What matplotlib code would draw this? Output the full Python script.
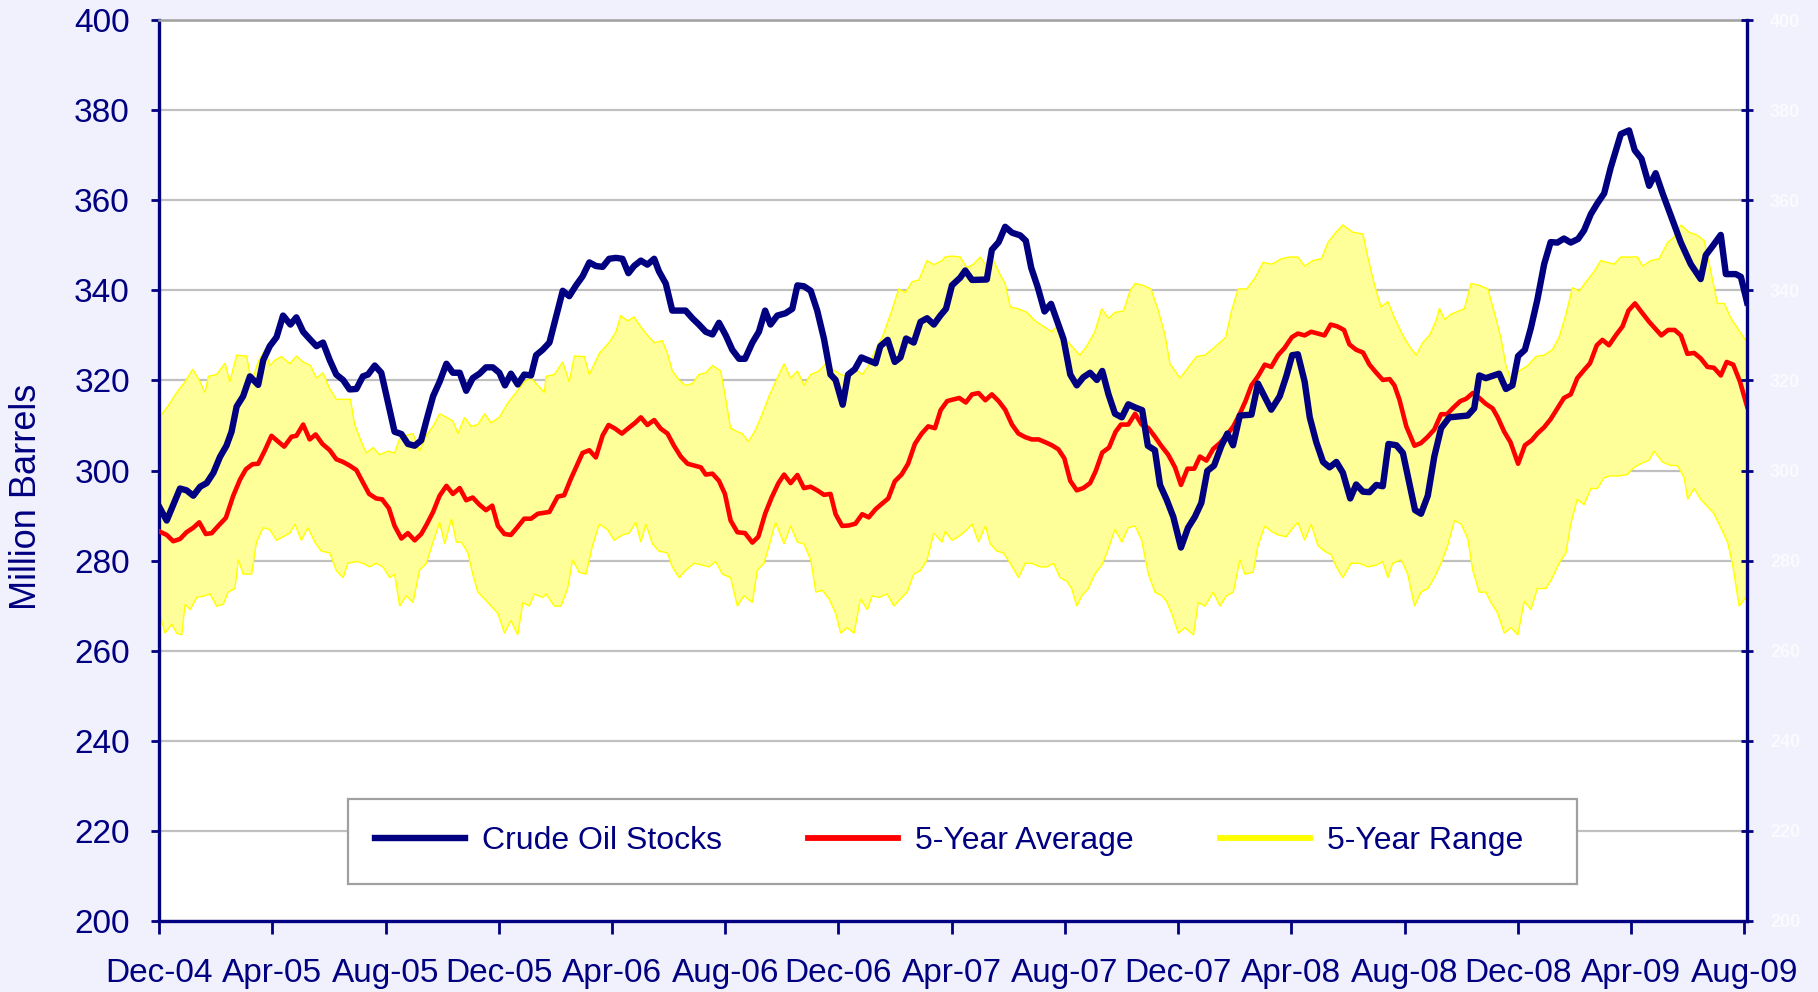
import numpy as np
import matplotlib
matplotlib.use('Agg')
import matplotlib.pyplot as plt
from matplotlib.lines import Line2D

NAVY = '#000080'
RED = '#FF0000'
BG = '#F1F1FD'

# x positions are months since Dec-04
TICK_LABELS = ['Dec-04', 'Apr-05', 'Aug-05', 'Dec-05', 'Apr-06', 'Aug-06', 'Dec-06', 'Apr-07',
               'Aug-07', 'Dec-07', 'Apr-08', 'Aug-08', 'Dec-08', 'Apr-09', 'Aug-09']

stocks_x = [0, 0.27, 0.74, 0.97, 1.21, 1.45, 1.68, 1.92, 2.15, 2.38, 2.56, 2.74, 2.97, 3.21, 3.5, 3.68,
            3.91, 4.15, 4.38, 4.64, 4.85, 5.09, 5.32, 5.56, 5.79, 6.03, 6.26, 6.5, 6.73, 6.97, 7.2,
            7.38, 7.62, 7.85, 8.09, 8.32, 8.56, 8.79, 9.03, 9.26, 9.44, 9.68, 9.91, 10.15, 10.38,
            10.62, 10.85, 11.08, 11.32, 11.55, 11.79, 12.02, 12.22, 12.43, 12.67, 12.9, 13.14, 13.32,
            13.55, 13.79, 14.08, 14.26, 14.49, 14.73, 14.96, 15.2, 15.43, 15.67, 15.9, 16.14, 16.37,
            16.58, 16.78, 17.02, 17.25, 17.49, 17.66, 17.9, 18.13, 18.6, 18.84, 19.07, 19.31, 19.55,
            19.78, 20.02, 20.25, 20.49, 20.7, 20.96, 21.19, 21.41, 21.6, 21.84, 22.13, 22.37, 22.55,
            22.78, 23.02, 23.25, 23.49, 23.72, 23.9, 24.15, 24.34, 24.58, 24.81, 25.31, 25.48, 25.74,
            25.99, 26.19, 26.39, 26.66, 26.9, 27.13, 27.37, 27.6, 27.8, 28.01, 28.3, 28.48, 28.72,
            29.24, 29.42, 29.66, 29.89, 30.13, 30.42, 30.62, 30.81, 31.04, 31.28, 31.51, 31.77,
            31.95, 32.19, 32.42, 32.65, 32.89, 33.13, 33.32, 33.54, 33.77, 34.01, 34.24, 34.48,
            34.73, 34.93, 35.18, 35.36, 35.59, 35.83, 36.1, 36.35, 36.59, 36.82, 37.03, 37.27,
            37.53, 37.74, 37.94, 38.18, 38.59, 38.82, 39.08, 39.29, 39.59, 39.82, 40.03, 40.23,
            40.47, 40.65, 40.88, 41.12, 41.35, 41.59, 41.82, 42.08, 42.29, 42.53, 42.76, 43.0,
            43.23, 43.43, 43.71, 43.94, 44.18, 44.37, 44.58, 44.82, 45.05, 45.29, 45.58, 46.23,
            46.46, 46.64, 46.87, 47.34, 47.58, 47.81, 48.01, 48.25, 48.46, 48.69, 48.93, 49.16,
            49.4, 49.63, 49.87, 50.13, 50.34, 50.58, 50.81, 51.05, 51.28, 51.64, 51.93, 52.13,
            52.37, 52.64, 52.87, 53.11, 53.41, 53.76, 54.11, 54.46, 54.64, 54.88, 55.17, 55.35,
            55.7, 55.88, 56.1]
stocks = [292.0, 288.9, 296.0, 295.6, 294.4, 296.4, 297.2, 299.5, 303.0, 305.5, 308.6, 314.2, 316.5,
          320.9, 319.0, 324.5, 327.6, 329.6, 334.4, 332.4, 334.0, 330.8, 329.2, 327.6, 328.4, 324.5,
          321.3, 320.1, 318.0, 318.1, 320.9, 321.3, 323.3, 321.7, 315.0, 308.6, 308.1, 305.9, 305.5,
          306.7, 311.0, 316.5, 319.7, 323.7, 321.7, 321.7, 317.7, 320.5, 321.5, 322.9, 322.9, 321.7,
          318.9, 321.5, 319.1, 321.3, 321.1, 325.6, 326.8, 328.4, 335.5, 339.9, 338.7, 341.1, 343.1,
          346.2, 345.4, 345.2, 347.0, 347.2, 347.0, 343.8, 345.4, 346.6, 345.7, 347.0, 344.2, 341.5,
          335.5, 335.5, 333.8, 332.4, 330.8, 330.2, 332.8, 330.0, 326.8, 324.8, 324.8, 328.4, 330.8,
          335.5, 332.4, 334.4, 334.9, 335.9, 341.1, 340.9, 339.9, 335.5, 329.2, 321.3, 320.1, 314.6,
          321.3, 322.5, 325.1, 323.8, 327.6, 329.0, 324.1, 325.1, 329.3, 328.4, 333.0, 333.8, 332.4,
          334.4, 335.9, 341.1, 342.8, 344.4, 342.3, 342.4, 349.0, 350.7, 354.1, 352.8, 352.2, 351.0,
          345.0, 340.7, 335.3, 337.0, 332.4, 329.2, 321.3, 318.9, 320.7, 321.7, 320.1, 322.1, 316.9,
          312.6, 311.8, 314.7, 314.0, 313.4, 305.5, 304.5, 296.8, 293.6, 289.7, 282.9, 287.3, 289.7,
          292.8, 299.9, 301.1, 305.5, 308.2, 305.6, 312.2, 312.4, 319.3, 316.1, 313.5, 316.5, 320.9,
          325.6, 325.8, 319.7, 311.8, 306.3, 301.9, 300.7, 301.9, 299.5, 293.8, 296.9, 295.3, 295.2,
          296.8, 296.5, 305.9, 305.6, 303.9, 296.8, 291.2, 290.4, 294.4, 303.1, 309.4, 311.8, 312.2,
          313.8, 321.1, 320.5, 321.5, 318.1, 318.9, 325.4, 326.8, 331.6, 337.9, 345.8, 350.7, 350.6,
          351.5, 350.6, 351.4, 353.3, 356.9, 359.3, 361.5, 367.2, 374.7, 375.5, 371.1, 369.2, 363.2,
          366.0, 361.6, 356.5, 350.6, 345.8, 342.5, 347.8, 349.8, 352.3, 343.6, 343.6, 343.0, 337.3]

avg_x = [0, 0.27, 0.5, 0.74, 0.97, 1.21, 1.42, 1.65, 1.86, 2.09, 2.36, 2.62, 2.86, 3.07, 3.3, 3.5,
         3.74, 3.97, 4.21, 4.42, 4.68, 4.85, 5.09, 5.32, 5.53, 5.77, 6.03, 6.26, 6.5, 6.73, 6.97,
         7.18, 7.42, 7.67, 7.88, 8.12, 8.32, 8.56, 8.79, 9.03, 9.26, 9.46, 9.68, 9.91, 10.15,
         10.38, 10.62, 10.85, 11.08, 11.32, 11.55, 11.77, 11.97, 12.2, 12.43, 12.67, 12.9, 13.14,
         13.38, 13.79, 14.08, 14.31, 14.55, 14.96, 15.2, 15.43, 15.67, 15.88, 16.11, 16.35, 16.58,
         16.82, 17.02, 17.25, 17.49, 17.72, 17.96, 18.19, 18.43, 18.67, 18.9, 19.14, 19.31, 19.55,
         19.78, 19.99, 20.19, 20.43, 20.7, 20.96, 21.17, 21.41, 21.64, 21.88, 22.08, 22.31, 22.55,
         22.78, 23.02, 23.25, 23.49, 23.72, 23.9, 24.13, 24.37, 24.6, 24.84, 25.07, 25.31, 25.55,
         25.76, 25.99, 26.23, 26.46, 26.7, 26.94, 27.17, 27.41, 27.61, 27.84, 28.01, 28.27, 28.5,
         28.72, 28.95, 29.19, 29.42, 29.66, 29.89, 30.13, 30.36, 30.6, 30.83, 31.07, 31.3, 31.54,
         31.77, 31.98, 32.19, 32.42, 32.65, 32.89, 33.09, 33.32, 33.56, 33.79, 33.98, 34.24,
         34.48, 34.71, 34.95, 35.18, 35.39, 35.65, 35.89, 36.1, 36.33, 36.57, 36.77, 37.0, 37.24,
         37.48, 37.71, 37.95, 38.18, 38.38, 38.59, 38.82, 39.06, 39.29, 39.53, 39.76, 40.02,
         40.23, 40.47, 40.7, 40.94, 41.17, 41.39, 41.62, 41.86, 42.05, 42.29, 42.53, 42.76, 43.0,
         43.23, 43.47, 43.64, 43.82, 44.06, 44.35, 44.58, 44.82, 45.05, 45.29, 45.5, 45.73,
         45.97, 46.17, 46.41, 46.64, 46.87, 47.11, 47.29, 47.52, 47.74, 48.01, 48.25, 48.49,
         48.69, 48.93, 49.16, 49.4, 49.63, 49.87, 50.1, 50.34, 50.55, 50.79, 50.99, 51.22, 51.46,
         51.7, 51.91, 52.14, 52.38, 52.64, 52.87, 53.07, 53.31, 53.54, 53.76, 53.99, 54.23,
         54.46, 54.7, 54.93, 55.17, 55.38, 55.61, 55.85, 56.1]
avg = [286.5, 285.7, 284.3, 284.8, 286.3, 287.3, 288.5, 285.9, 286.1, 287.7, 289.5, 294.4, 298.0,
       300.3, 301.4, 301.5, 304.5, 307.7, 306.4, 305.3, 307.5, 307.7, 310.2, 306.9, 308.0, 305.9,
       304.5, 302.5, 301.9, 301.1, 300.1, 297.6, 294.8, 293.8, 293.6, 291.6, 287.7, 284.9, 286.1,
       284.5, 285.9, 288.1, 290.8, 294.4, 296.6, 294.8, 296.1, 293.4, 294.0, 292.4, 291.2, 292.2,
       287.7, 285.9, 285.7, 287.5, 289.3, 289.3, 290.4, 290.8, 294.2, 294.5, 298.2, 303.9, 304.5,
       302.9, 307.8, 310.1, 309.3, 308.2, 309.4, 310.6, 311.8, 310.1, 311.2, 309.3, 308.2, 305.5,
       303.1, 301.5, 301.1, 300.7, 299.1, 299.3, 297.7, 294.8, 288.9, 286.3, 286.1, 284.0, 285.3,
       290.4, 294.0, 297.2, 299.1, 297.2, 299.0, 296.1, 296.4, 295.6, 294.6, 294.8, 290.3, 287.7,
       287.8, 288.2, 290.3, 289.6, 291.4, 292.7, 293.8, 297.6, 299.1, 301.5, 305.9, 308.2, 309.8,
       309.4, 313.4, 315.4, 315.7, 316.1, 315.1, 316.9, 317.2, 315.6, 316.9, 315.4, 313.5, 310.2,
       308.2, 307.4, 306.9, 306.9, 306.3, 305.6, 304.7, 302.7, 297.7, 295.6, 296.1, 297.2, 299.9,
       304.0, 305.1, 308.6, 310.2, 310.2, 312.6, 310.2, 309.4, 307.5, 305.6, 303.5, 300.7, 296.8,
       300.4, 300.4, 303.1, 302.2, 304.8, 306.1, 307.8, 309.8, 312.6, 315.4, 318.9, 320.9, 323.5,
       323.0, 325.6, 327.2, 329.6, 330.4, 330.0, 330.8, 330.4, 330.0, 332.4, 332.0, 331.2, 328.0,
       326.8, 326.2, 323.5, 321.7, 320.1, 320.3, 318.9, 315.7, 309.8, 305.5, 306.1, 307.5, 309.1,
       312.5, 312.5, 314.0, 315.4, 315.9, 317.2, 316.1, 314.8, 313.8, 311.8, 308.6, 306.3, 301.5,
       305.6, 306.7, 308.2, 309.6, 311.4, 313.8, 316.1, 316.9, 320.5, 322.3, 323.8, 327.8, 329.0,
       327.8, 330.0, 332.0, 335.5, 337.1, 335.1, 333.0, 331.4, 330.0, 331.2, 331.2, 330.0, 325.9,
       326.1, 324.9, 323.0, 322.8, 321.1, 324.1, 323.5, 319.7, 314.2]

range_hi_x = [0, 0.21, 0.39, 0.62, 0.92, 1.19, 1.45, 1.62, 1.74, 2.03, 2.33, 2.5, 2.74, 3.09, 3.27,
              3.5, 3.74, 3.91, 4.09, 4.32, 4.62, 4.85, 5.09, 5.35, 5.56, 5.79, 6.03, 6.26, 6.5,
              6.76, 6.91, 7.15, 7.32, 7.56, 7.79, 8.09, 8.32, 8.5, 8.73, 8.97, 9.2, 9.44, 9.68,
              9.91, 10.15, 10.38, 10.56, 10.79, 11.03, 11.26, 11.5, 11.73, 12.02, 12.32, 12.61,
              12.9, 13.14, 13.38, 13.61, 13.67, 13.96, 14.26, 14.49, 14.67, 15.02, 15.2, 15.55,
              15.9, 16.14, 16.31, 16.55, 16.78, 16.96, 17.2, 17.49, 17.78, 17.96, 18.13, 18.37,
              18.6, 18.84, 19.07, 19.31, 19.55, 19.84, 20.02, 20.19, 20.43, 20.6, 20.82, 21.07,
              21.31, 21.55, 21.78, 22.08, 22.31, 22.55, 22.78, 23.02, 23.31, 23.55, 23.78, 24.08,
              24.31, 24.61, 24.84, 25.07, 25.31, 25.55, 25.84, 26.13, 26.37, 26.6, 26.84, 27.13,
              27.37, 27.66, 27.77, 28.01, 28.3, 28.54, 28.77, 29.01, 29.24, 29.48, 29.72, 29.89,
              30.07, 30.36, 30.66, 30.95, 31.24, 31.54, 31.77, 32.01, 32.24, 32.53, 32.77, 33.06,
              33.3, 33.54, 33.77, 34.07, 34.3, 34.48, 34.77, 35.04, 35.3, 35.54, 35.71, 36.07,
              36.36, 36.65, 36.95, 37.18, 37.48, 37.68, 37.89, 38.12, 38.42, 38.71, 39.0, 39.3,
              39.65, 39.94, 40.23, 40.47, 40.76, 41.06, 41.29, 41.59, 41.82, 42.17, 42.53, 42.7,
              42.94, 43.17, 43.41, 43.64, 43.94, 44.17, 44.41, 44.64, 44.88, 45.11, 45.23, 45.41,
              45.64, 46.11, 46.35, 46.64, 46.94, 47.17, 47.41, 47.58, 47.76, 48.05, 48.35, 48.64,
              48.93, 49.22, 49.46, 49.7, 49.93, 50.17, 50.4, 50.7, 50.93, 51.17, 51.4, 51.64,
              51.93, 52.23, 52.4, 52.7, 52.99, 53.29, 53.52, 53.76, 54.05, 54.35, 54.58, 54.82,
              55.05, 55.29, 55.52, 55.76, 56.1]
range_hi = [311.8, 313.4, 315.0, 317.3, 319.7, 322.5, 319.7, 317.3, 320.9, 321.3, 323.8, 319.7,
            325.6, 325.4, 319.7, 324.1, 326.8, 323.3, 324.5, 325.3, 323.7, 325.4, 324.1, 323.3,
            320.5, 321.7, 318.1, 315.8, 315.8, 315.8, 310.2, 306.3, 303.9, 305.1, 303.5, 304.3,
            303.9, 307.1, 307.8, 308.2, 304.3, 307.8, 309.8, 312.6, 311.8, 311.0, 308.2, 311.8,
            309.8, 310.2, 312.6, 310.6, 311.8, 315.0, 317.3, 319.7, 320.5, 318.9, 317.3, 320.9,
            321.3, 324.1, 319.7, 325.4, 325.3, 321.3, 326.0, 328.4, 330.8, 334.4, 333.2, 334.1,
            332.4, 330.4, 328.4, 328.8, 326.0, 322.1, 320.1, 318.9, 319.3, 321.3, 321.7, 323.3,
            322.1, 315.8, 309.4, 308.6, 308.2, 306.4, 309.0, 312.6, 316.5, 319.7, 323.7, 320.5,
            322.1, 318.9, 321.3, 322.1, 323.7, 322.5, 321.3, 320.9, 322.5, 321.3, 323.3, 326.8,
            329.6, 334.7, 340.3, 339.5, 341.9, 342.3, 346.6, 345.7, 346.6, 347.4, 347.6, 347.4,
            345.0, 345.8, 347.4, 345.2, 346.6, 343.4, 341.5, 336.3, 335.9, 335.1, 333.2, 332.0,
            330.8, 332.4, 329.2, 327.6, 325.6, 327.6, 330.8, 335.9, 333.8, 335.1, 335.4, 339.9,
            341.5, 341.1, 340.3, 335.5, 330.0, 323.7, 320.5, 322.9, 325.3, 325.6, 326.8, 328.4,
            329.6, 335.5, 340.3, 340.3, 342.7, 346.2, 345.8, 347.0, 347.4, 347.4, 345.4, 346.6,
            347.0, 350.6, 353.0, 354.5, 352.9, 352.5, 347.4, 341.1, 336.3, 337.5, 333.9, 330.0,
            327.6, 325.6, 328.4, 330.0, 333.2, 336.0, 333.5, 334.7, 335.9, 341.5, 341.1, 340.3,
            335.1, 329.2, 323.3, 320.1, 322.1, 323.3, 325.3, 325.6, 326.8, 329.6, 334.7, 340.6,
            339.8, 341.8, 344.2, 346.6, 346.2, 345.8, 347.4, 347.4, 347.4, 345.4, 346.6, 347.0,
            350.6, 351.8, 354.5, 352.9, 352.2, 351.0, 344.2, 337.1, 337.1, 333.9, 331.6, 328.4]

range_lo_x = [0, 0.21, 0.45, 0.62, 0.8, 0.92, 1.1, 1.33, 1.62, 1.8, 2.03, 2.27, 2.44, 2.68, 2.8,
              2.97, 3.27, 3.44, 3.68, 3.91, 4.15, 4.38, 4.62, 4.8, 5.02, 5.26, 5.5, 5.73, 6.03,
              6.26, 6.5, 6.67, 6.97, 7.2, 7.44, 7.67, 7.91, 8.15, 8.32, 8.5, 8.73, 8.97, 9.2, 9.44,
              9.68, 9.91, 10.09, 10.33, 10.5, 10.68, 10.91, 11.08, 11.26, 11.5, 11.73, 11.97, 12.2,
              12.43, 12.67, 12.85, 13.08, 13.26, 13.55, 13.67, 13.96, 14.2, 14.43, 14.61, 14.84,
              15.08, 15.31, 15.55, 15.84, 16.08, 16.37, 16.61, 16.84, 17.02, 17.2, 17.43, 17.66,
              17.96, 18.13, 18.37, 18.6, 18.9, 19.19, 19.43, 19.66, 19.9, 20.19, 20.43, 20.66,
              20.96, 21.13, 21.37, 21.55, 21.78, 22.08, 22.31, 22.55, 22.78, 23.02, 23.2, 23.43,
              23.67, 23.9, 24.08, 24.31, 24.55, 24.78, 25.02, 25.19, 25.43, 25.72, 25.96, 26.19,
              26.43, 26.66, 26.9, 27.13, 27.37, 27.66, 27.77, 28.01, 28.24, 28.48, 28.72, 28.95,
              29.19, 29.36, 29.6, 29.83, 30.07, 30.36, 30.6, 30.83, 31.13, 31.36, 31.6, 31.83,
              32.07, 32.24, 32.42, 32.6, 32.83, 33.06, 33.3, 33.48, 33.77, 34.01, 34.24, 34.48,
              34.71, 34.95, 35.18, 35.42, 35.59, 35.77, 36.01, 36.24, 36.54, 36.71, 36.95, 37.24,
              37.48, 37.71, 37.95, 38.18, 38.36, 38.65, 38.82, 39.06, 39.29, 39.53, 39.82, 40.06,
              40.23, 40.47, 40.7, 40.94, 41.17, 41.41, 41.59, 41.82, 42.11, 42.41, 42.7, 43.0,
              43.23, 43.41, 43.58, 43.88, 44.11, 44.35, 44.58, 44.82, 45.05, 45.29, 45.52, 45.76,
              46.0, 46.23, 46.41, 46.64, 46.87, 47.05, 47.29, 47.52, 47.76, 48.0, 48.23, 48.46,
              48.69, 48.99, 49.22, 49.46, 49.7, 49.87, 50.1, 50.34, 50.58, 50.81, 51.05, 51.28,
              51.58, 51.87, 52.11, 52.34, 52.64, 52.81, 53.11, 53.41, 53.64, 53.88, 54.0, 54.23,
              54.46, 54.7, 54.93, 55.17, 55.41, 55.58, 55.82, 56.1]
range_lo = [268.7, 263.9, 265.9, 263.9, 263.5, 270.3, 269.1, 271.8, 272.2, 272.6, 269.9, 270.3,
            273.0, 273.8, 280.2, 277.0, 277.0, 284.1, 287.3, 286.9, 284.5, 285.3, 286.1, 288.1,
            284.5, 287.3, 284.1, 282.1, 281.7, 277.8, 276.2, 279.4, 279.8, 279.4, 278.6, 279.4,
            278.6, 276.2, 277.0, 269.9, 272.2, 270.7, 277.8, 279.4, 284.1, 288.5, 283.7, 289.3,
            284.1, 284.1, 281.7, 277.0, 273.0, 271.5, 269.9, 268.3, 263.9, 266.7, 263.5, 270.7,
            269.9, 272.6, 271.8, 272.6, 269.9, 269.9, 273.8, 280.2, 277.4, 277.0, 283.3, 288.1,
            286.9, 284.5, 285.7, 286.1, 288.5, 284.1, 288.1, 283.7, 282.1, 281.7, 278.6, 276.2,
            277.8, 279.4, 279.0, 278.6, 279.8, 277.0, 276.2, 269.9, 272.2, 270.7, 277.8, 279.4,
            283.3, 288.5, 283.7, 287.7, 284.1, 283.7, 280.2, 273.0, 273.4, 271.5, 268.3, 263.9,
            265.1, 263.9, 271.5, 269.1, 272.2, 271.8, 272.6, 269.9, 271.5, 273.0, 277.0, 277.8,
            280.2, 286.1, 284.1, 286.5, 284.5, 285.3, 286.5, 288.1, 284.1, 287.7, 283.7, 282.1,
            281.7, 279.4, 276.2, 279.4, 279.4, 278.6, 278.6, 279.4, 276.2, 275.4, 273.8, 269.9,
            272.2, 273.8, 277.0, 279.0, 281.7, 286.9, 284.1, 287.3, 287.7, 284.5, 277.0, 273.0,
            272.2, 271.0, 268.3, 263.9, 265.1, 263.5, 270.7, 269.9, 273.0, 269.9, 272.2, 273.0,
            280.2, 277.0, 277.4, 283.3, 287.7, 286.5, 285.7, 285.3, 287.3, 288.5, 284.5, 288.1,
            283.3, 282.1, 281.3, 278.6, 276.2, 279.4, 279.4, 278.6, 279.0, 279.8, 276.2, 279.4,
            280.2, 277.0, 269.9, 273.0, 273.8, 276.2, 279.4, 283.3, 288.9, 288.1, 284.9, 277.8,
            273.0, 273.0, 270.7, 268.3, 263.9, 265.1, 263.5, 271.0, 269.1, 273.8, 273.8, 276.2,
            279.4, 281.7, 288.1, 293.6, 292.4, 296.0, 296.0, 298.4, 298.8, 298.8, 299.1, 300.7,
            301.5, 302.3, 304.3, 301.9, 301.1, 301.1, 298.4, 293.6, 296.0, 293.6, 292.0, 290.4,
            287.3, 284.1, 279.4, 269.9, 272.2]

plt.rcParams['font.family'] = ['Liberation Sans', 'DejaVu Sans']

fig = plt.figure(figsize=(18.18, 9.92), dpi=100, facecolor=BG)
ax = fig.add_axes([0.0875, 0.0716, 0.8735, 0.9082])
ax.set_facecolor('white')

# 5-year range band (polygon: upper edge then lower edge reversed)
band_x = np.r_[range_hi_x, range_lo_x[::-1]]
band_y = np.r_[range_hi, range_lo[::-1]]
ax.fill(band_x, band_y, facecolor='#FFFF99', edgecolor='#FFFF00', linewidth=1.0, zorder=1)

ax.plot(avg_x, avg, color=RED, linewidth=3.3, zorder=3, solid_joinstyle='round')
ax.plot(stocks_x, stocks, color=NAVY, linewidth=4.6, zorder=4, solid_joinstyle='round')

ax.set_xlim(0, 56.1)
ax.set_ylim(200, 400)
ax.set_xticks(np.arange(0, 57, 4))
ax.set_xticklabels(TICK_LABELS)
ax.set_yticks(np.arange(200, 401, 20))

ax.set_axisbelow(True)
ax.yaxis.grid(True, color='#C0C0C0', linewidth=1.6)
for side in ['left', 'bottom']:
    ax.spines[side].set_color(NAVY)
    ax.spines[side].set_linewidth(2.4)
ax.spines['top'].set_color('#A0A0A0')
ax.spines['top'].set_linewidth(1.8)
ax.spines['right'].set_visible(False)

ax.tick_params(axis='x', direction='out', length=9, width=2, color=NAVY,
               labelsize=24, labelcolor=NAVY, pad=18)
ax.tick_params(axis='y', direction='out', length=6, width=2, color=NAVY,
               labelsize=24, labelcolor=NAVY, pad=15)

ax2 = ax.twinx()
ax2.set_ylim(200, 400)
ax2.set_yticks(np.arange(200, 401, 20))
for s in ['left', 'top', 'bottom']:
    ax2.spines[s].set_visible(False)
ax2.spines['right'].set_color(NAVY)
ax2.spines['right'].set_linewidth(2.4)
ax2.tick_params(axis='y', direction='inout', length=9, width=2, color=NAVY,
                labelsize=13, labelcolor='#FAFAFF', pad=12)
for lab in ax2.get_yticklabels():
    lab.set_fontweight('bold')

fig.text(27 / 1818, 1 - 497 / 992, 'Million Barrels', rotation=90, ha='center', va='center',
         fontsize=26, color=NAVY)

handles = [Line2D([], [], color=NAVY, linewidth=4.6),
           Line2D([], [], color=RED, linewidth=4.2),
           Line2D([], [], color='#FFFF00', linewidth=4.2)]
# trailing spaces leave the empty room Excel keeps after the last entry
leg = ax2.legend(handles, ['Crude Oil Stocks', '5-Year Average', '5-Year Range   '],
                 ncol=3, loc='center', mode='expand', borderaxespad=0,
                 bbox_to_anchor=(0.119, 0.040, 0.774, 0.0965),
                 fontsize=23, handlelength=2.8, handletextpad=0.55, borderpad=0.85,
                 columnspacing=2.5, fancybox=False, framealpha=1, edgecolor='#A0A0A0')
leg.get_frame().set_linewidth(1.6)
for t in leg.get_texts():
    t.set_color(NAVY)

fig.savefig('out.png', dpi=100, facecolor=BG)
